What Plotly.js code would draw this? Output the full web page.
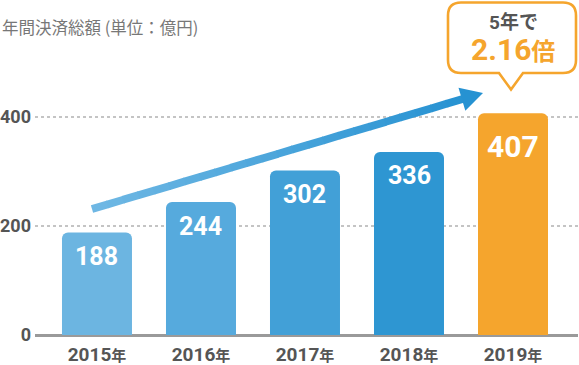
<!DOCTYPE html>
<html>
<head>
<meta charset="utf-8">
<script src="https://cdn.plot.ly/plotly-3.0.1.min.js"></script>
<style>html,body{margin:0;padding:0;background:#fff;}#chart{width:579px;height:365px;}</style>
</head>
<body>
<div id="chart"></div>
<script>
// ---- data ----
var years = ['2015', '2016', '2017', '2018', '2019'];
var values = [188, 244, 302, 336, 407];
var yTicks = [0, 200, 400];
var chartTitle = '年間決済総額 (単位：億円)';
var calloutLine1 = '5年で';
var calloutNum = '2.16';
var calloutUnit = '倍';
var yearSuffix = '年';

// ---- styles ----
var barColors = ['#6cb5e1', '#56aadd', '#42a0d7', '#2e96d2', '#f5a52d'];
var ORANGE = '#f5a52d';
var FONT = "Roboto, 'Noto Sans CJK JP', sans-serif";
var W = 579, H = 365;
var L = 35, R = 1, T = 0, B = 30;
var PW = W - L - R, PH = H - T - B;
function PX(x) { return (x - L) / PW; }
function PY(y) { return (T + PH - y) / PH; }
var pxPerUnit = 0.545;
var yMax = PH / pxPerUnit;

var shapes = [];

// gradient arrow
(function () {
  var S = [92, 209], E = [483, 93];
  var dx = E[0] - S[0], dy = E[1] - S[1];
  var len = Math.sqrt(dx * dx + dy * dy);
  var u = [dx / len, dy / len], n = [-u[1], u[0]];
  var headLen = 22, headHalf = 12, shaftHalf = 3.9;
  var Bp = [E[0] - u[0] * headLen, E[1] - u[1] * headLen];
  var c0 = [112, 184, 228], c1 = [38, 146, 210];
  var N = 24;
  var shaftLen = len - headLen;
  function col(t) {
    return 'rgb(' + Math.round(c0[0] + (c1[0] - c0[0]) * t) + ',' +
      Math.round(c0[1] + (c1[1] - c0[1]) * t) + ',' +
      Math.round(c0[2] + (c1[2] - c0[2]) * t) + ')';
  }
  for (var i = 0; i < N; i++) {
    var a = shaftLen * i / N, b = Math.min(shaftLen * (i + 1) / N + 0.8, shaftLen + 1);
    var p1 = [S[0] + u[0] * a, S[1] + u[1] * a];
    var p2 = [S[0] + u[0] * b, S[1] + u[1] * b];
    var pts = [
      [p1[0] + n[0] * shaftHalf, p1[1] + n[1] * shaftHalf],
      [p2[0] + n[0] * shaftHalf, p2[1] + n[1] * shaftHalf],
      [p2[0] - n[0] * shaftHalf, p2[1] - n[1] * shaftHalf],
      [p1[0] - n[0] * shaftHalf, p1[1] - n[1] * shaftHalf]
    ];
    var path = 'M' + pts.map(function (p) { return PX(p[0]) + ',' + PY(p[1]); }).join(' L') + ' Z';
    var c = col((i + 0.5) / N);
    shapes.push({ type: 'path', xref: 'paper', yref: 'paper', path: path, fillcolor: c, line: { width: 0 }, layer: 'above' });
  }
  var head = [
    [Bp[0] + n[0] * headHalf, Bp[1] + n[1] * headHalf],
    E,
    [Bp[0] - n[0] * headHalf, Bp[1] - n[1] * headHalf]
  ];
  shapes.push({ type: 'path', xref: 'paper', yref: 'paper',
    path: 'M' + head.map(function (p) { return PX(p[0]) + ',' + PY(p[1]); }).join(' L') + ' Z',
    fillcolor: col(1), line: { width: 0 }, layer: 'above' });
})();

// callout bubble
(function () {
  var x0 = 448, x1 = 576, y0 = 2.5, y1 = 73, r = 13;
  var tipX = 511, tipY = 89.5, bl = 499, br = 523;
  function P(x, y) { return PX(x) + ',' + PY(y); }
  var path = 'M' + P(x0 + r, y0) +
    ' L' + P(x1 - r, y0) +
    ' Q' + P(x1, y0) + ' ' + P(x1, y0 + r) +
    ' L' + P(x1, y1 - r) +
    ' Q' + P(x1, y1) + ' ' + P(x1 - r, y1) +
    ' L' + P(br, y1) +
    ' L' + P(tipX, tipY) +
    ' L' + P(bl, y1) +
    ' L' + P(x0 + r, y1) +
    ' Q' + P(x0, y1) + ' ' + P(x0, y1 - r) +
    ' L' + P(x0, y0 + r) +
    ' Q' + P(x0, y0) + ' ' + P(x0 + r, y0) + ' Z';
  shapes.push({ type: 'path', xref: 'paper', yref: 'paper', path: path,
    fillcolor: '#ffffff', line: { color: ORANGE, width: 2.6 }, layer: 'above' });
})();

var annotations = [];
annotations.push({
  text: chartTitle, xref: 'paper', yref: 'paper', x: PX(0), y: PY(27),
  xanchor: 'left', yanchor: 'middle', showarrow: false,
  font: { family: "'Noto Sans CJK JP', sans-serif", size: 16.5, color: '#777777' }
});
annotations.push({
  text: calloutLine1, xref: 'paper', yref: 'paper', x: PX(513), y: PY(22),
  xanchor: 'center', yanchor: 'middle', showarrow: false,
  font: { family: FONT, size: 19, color: '#555555', weight: 'bold' }
});
annotations.push({
  text: calloutNum + '<span style="font-size:24px">' + calloutUnit + '</span>',
  xref: 'paper', yref: 'paper', x: PX(513), y: PY(50),
  xanchor: 'center', yanchor: 'middle', showarrow: false,
  font: { family: FONT, size: 30, color: ORANGE, weight: 'bold' }
});
values.forEach(function (v, i) {
  var last = i === values.length - 1;
  annotations.push({
    text: String(v), x: i, y: v, xref: 'x', yref: 'y',
    xanchor: 'center', yanchor: 'middle', showarrow: false,
    yshift: last ? -33 : -24,
    font: { family: FONT, size: last ? 30 : 25, color: '#ffffff', weight: 'bold' }
  });
});

var trace = {
  type: 'bar', x: years, y: values,
  marker: { color: barColors, cornerradius: 6, line: { width: 0 } },
  hoverinfo: 'none'
};

var layout = {
  width: W, height: H,
  margin: { l: L, r: R, t: T, b: B, pad: 0 },
  paper_bgcolor: '#ffffff', plot_bgcolor: '#ffffff',
  showlegend: false,
  bargap: 0.327,
  xaxis: {
    type: 'category', range: [-0.596, 4.625],
    tickvals: years,
    ticktext: years.map(function (y) { return y + '<span style="font-size:15px">' + yearSuffix + '</span>'; }),
    tickfont: { family: FONT, size: 19, color: '#555555', weight: 'bold' },
    showgrid: false, zeroline: false, showline: false, ticks: '',
    ticklabelstandoff: 6, fixedrange: true
  },
  yaxis: {
    range: [0, yMax], tickvals: yTicks, ticktext: yTicks.map(String),
    tickfont: { family: FONT, size: 18, color: '#555555', weight: 'bold' },
    showgrid: true, gridcolor: '#c4c4c4', griddash: 'dot', gridwidth: 1.2,
    zeroline: true, zerolinecolor: '#9a9a9a', zerolinewidth: 3,
    showline: false, ticks: '', ticklabelstandoff: 3, fixedrange: true
  },
  shapes: shapes,
  annotations: annotations
};

Plotly.newPlot('chart', [trace], layout, { displayModeBar: false, staticPlot: true });
</script>
</body>
</html>
